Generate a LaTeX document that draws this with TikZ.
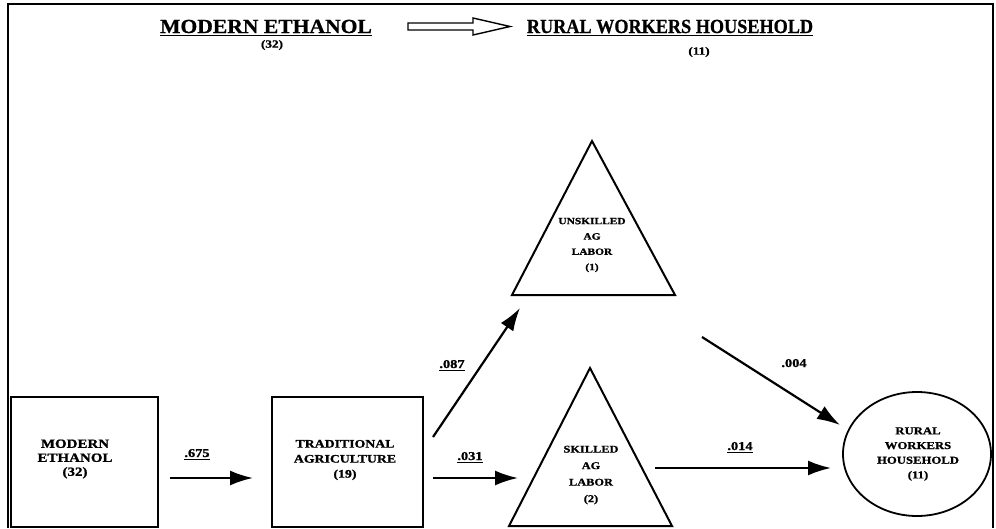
\documentclass[tikz,border=0pt]{standalone}
\usepackage{fontspec}
\setmainfont{Liberation Serif}
\newfontfamily\lbl[FakeStretch=1.2,FakeBold=1.2]{Liberation Serif}
\newfontfamily\ttlf[FakeBold=0.8]{Liberation Serif}
\usetikzlibrary{arrows.meta,shapes.geometric}
\begin{document}
\begin{tikzpicture}[x=1pt,y=-1pt,
  frame/.style={line width=2.2pt},
  boxn/.style={draw, line width=1.8pt, rectangle, inner sep=0pt},
  tri/.style={draw, line width=2pt, line join=miter},
  flow/.style={line width=2.2pt, -{Latex[length=23pt,width=15pt]}},
  ttl/.style={font=\ttlf\bfseries\fontsize{20}{22}\selectfont, inner sep=0pt, anchor=base},
  num/.style={font=\lbl\bfseries\fontsize{11}{12}\selectfont, inner sep=0pt},
  coef/.style={font=\lbl\bfseries\fontsize{12}{12}\selectfont, inner sep=0pt, anchor=base},
  uline/.style={line width=1.4pt},
  body/.style={align=center, inner sep=0pt}]
\useasboundingbox (0,0) rectangle (996,528);
% frame
\draw[frame] (8,528) -- (8,4) -- (993,4) -- (993,528);
% titles
\node[ttl] (t1) at (266,33) {\scalebox{1.08}[1]{MODERN ETHANOL}};
\draw[uline] ([yshift=-2.5pt]t1.base west) -- ([yshift=-2.5pt]t1.base east);
\node[ttl] (t2) at (670,33) {\scalebox{0.91}[1]{RURAL WORKERS HOUSEHOLD}};
\draw[uline] ([yshift=-2.5pt]t2.base west) -- ([yshift=-2.5pt]t2.base east);
\node[num] (t1n) at (272,45) {(32)};
\node[num] (t2n) at (699,52) {(11)};
% open arrow
\draw[line width=1.4pt, line join=miter] (408,23) -- (473,23) -- (473,18) -- (510,26.5) -- (473,35) -- (473,30) -- (408,30) -- cycle;
% boxes
\node[boxn, minimum width=147pt, minimum height=130pt] (me) at (84.5,462) {};
\node[body, font=\lbl\bfseries\fontsize{12.5}{14}\selectfont] (metxt) at (75,459) {MODERN\\ETHANOL\\(32)};
\node[boxn, minimum width=151pt, minimum height=130pt] (ta) at (347.5,462) {};
\node[body, font=\lbl\bfseries\fontsize{11.5}{15}\selectfont] (tatxt) at (345,460) {TRADITIONAL\\AGRICULTURE\\(19)};
% triangles
\coordinate (uA) at (592,141);
\coordinate (uL) at (512,295);
\coordinate (uR) at (675,295);
\draw[tri] (uA) -- (uL) -- (uR) -- cycle;
\node[body, font=\lbl\bfseries\fontsize{9.5}{15.3}\selectfont] (utxt) at (592,245) {UNSKILLED\\AG\\LABOR\\(1)};
\coordinate (sA) at (590,368);
\coordinate (sL) at (509,526);
\coordinate (sR) at (672,526);
\draw[tri] (sA) -- (sL) -- (sR) -- cycle;
\node[body, font=\lbl\bfseries\fontsize{10.3}{16.5}\selectfont] (stxt) at (591,475) {SKILLED\\AG\\LABOR\\(2)};
% household
\node[draw, ellipse, line width=1.8pt, minimum width=148pt, minimum height=124pt, inner sep=0pt] (rw) at (917,454) {};
\node[body, font=\lbl\bfseries\fontsize{10.6}{14.7}\selectfont] (rwtxt) at (918,454) {RURAL\\WORKERS\\HOUSEHOLD\\(11)};
% connector ends
\coordinate (e1s) at (170,478);
\coordinate (e1e) at (253,478);
\coordinate (e2s) at (433,478);
\coordinate (e2e) at (518,478);
\coordinate (e3s) at (433,437);
\coordinate (e3e) at (520,308);
\coordinate (e4s) at (655,468);
\coordinate (e4e) at (831,468);
\coordinate (e5s) at (702,337);
\coordinate (e5e) at (840,425);
\draw[flow] (e1s) -- (e1e);
\draw[flow] (e2s) -- (e2e);
\draw[flow] (e3s) -- (e3e);
\draw[flow] (e4s) -- (e4e);
\draw[flow] (e5s) -- (e5e);
% coefficients
\node[coef] (c1) at (197,457) {.675};
\draw[uline] ([yshift=-2.5pt]c1.base west) -- ([yshift=-2.5pt]c1.base east);
\node[coef] (c2) at (470,460) {.031};
\draw[uline] ([yshift=-2.5pt]c2.base west) -- ([yshift=-2.5pt]c2.base east);
\node[coef] (c3) at (452,368) {.087};
\draw[uline] ([yshift=-2.5pt]c3.base west) -- ([yshift=-2.5pt]c3.base east);
\node[coef] (c4) at (740,450) {.014};
\draw[uline] ([yshift=-2.5pt]c4.base west) -- ([yshift=-2.5pt]c4.base east);
\node[coef] (c5) at (794,367) {.004};
\end{tikzpicture}
\end{document}
